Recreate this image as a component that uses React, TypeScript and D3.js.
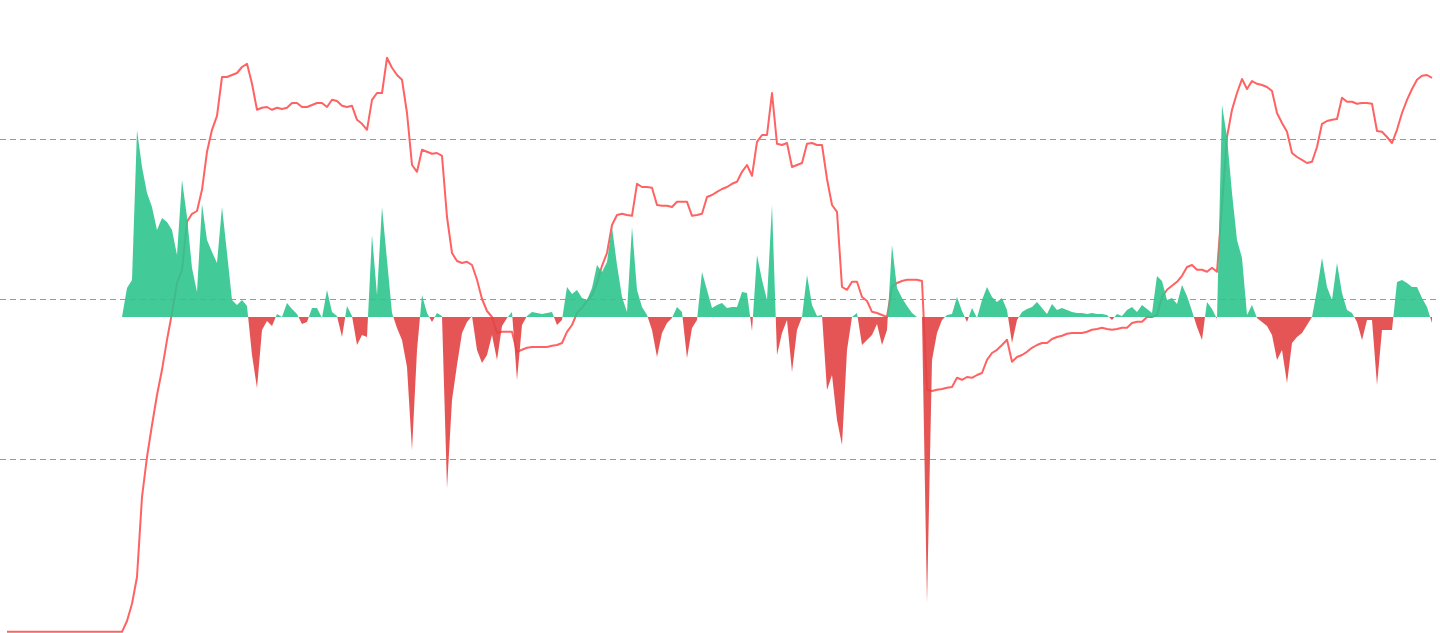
import React, { useEffect, useRef } from "react";
import * as d3 from "d3";

// price line, one sample every step of the time axis
const priceValues = [
  6.8, 6.8, 6.8, 6.8, 6.8, 6.8, 6.8, 6.8, 6.8, 6.8, 6.8, 6.8, 6.8, 6.8, 6.8, 6.8, 6.8, 6.8, 6.8, 6.8, 6.8, 6.8, 6.8, 6.8,
  9.5, 13.8, 20.5, 40.5, 50.5, 58.5, 66, 72.3, 79.8, 86.5, 94, 97.3, 109.3, 111.3, 112, 117.3, 126.8, 132.3, 135.8,
  145.5, 145.5, 146, 146.5, 148, 148.8, 143.8, 137.3, 137.8, 138, 137.3, 137.8, 137.5, 137.8, 139, 139, 138, 138,
  138.5, 139, 139, 138, 139.8, 139.5, 138.3, 138, 138.3, 134.8, 133.8, 132.3, 139.8, 141.5, 141.5, 150.3, 147.8,
  146, 144.8, 136.5, 123.5, 121.8, 127.3, 126.8, 126.3, 126.5, 125.8, 110.5, 101.5, 99.5, 99, 99.3, 98.5, 94.8,
  90, 87, 85.5, 81.5, 81.8, 81.8, 81.8, 76.8, 77.3, 77.8, 78, 78, 78, 78, 78.3, 78.5, 79, 81.8, 83.5, 86.5, 87.8,
  89.5, 91, 94, 98.3, 101.5, 108.5, 111, 111.3, 111, 110.8, 118.8, 118, 118, 117.8, 113.5, 113.3, 113.3, 113,
  114.3, 114.3, 114.3, 110.8, 111, 111.3, 115.5, 116, 116.8, 117.5, 118, 118.8, 119.3, 121.8, 123.5, 120.8,
  129.3, 131, 131, 141.5, 128.8, 128.5, 129, 123, 123.5, 124, 128.8, 129, 128.5, 128.5, 120, 113.5, 111.8, 93,
  92.3, 94.3, 94.3, 90.5, 89.5, 86.8, 86.5, 86, 85.5, 93, 94, 94.5, 94.8, 94.8, 94.8, 94.5, 67.3, 67, 67.3, 67.5,
  67.8, 68, 70.3, 69.8, 70.5, 70.3, 71, 71.5, 74.8, 76.5, 77.3, 78.5, 79.8, 74.3, 75.5, 76, 76.8, 77.8, 78.5, 79,
  79, 80, 80.5, 80.8, 81.3, 81.5, 81.5, 81.5, 81.8, 82.3, 82.5, 82.8, 82.5, 82.3, 82.5, 82.8, 82.8, 84, 84.3,
  84.3, 85.5, 85.5, 86, 90.5, 92.3, 93.3, 94.3, 95.8, 98, 98.5, 97.3, 97.3, 96.8, 97.8, 96.8, 113.5, 130.5,
  137.3, 141.5, 145, 142.5, 144.5, 143.8, 143.5, 143, 142, 136.5, 134, 131.8, 126.5, 125.5, 124.8, 124, 124.3,
  128, 133.8, 134.5, 134.8, 135, 140.3, 139.3, 139.3, 138.8, 139, 139, 138.8, 132, 131.8, 130.5, 129, 132.3,
  136.5, 139.8, 142.5, 144.8, 145.8, 146, 145.3,
];

// net flow (positive = inflow, negative = outflow); null before the flow data begins
const flowValues: (number | null)[] = [
  null, null, null, null, null, null, null, null, null, null, null, null, null, null, null, null, null, null, null,
  null, null, null, null,
  0, 14.5, 18.5, 93.5, 75, 62, 55, 43.5, 49.5, 47.5, 43.5, 31, 68.5, 50, 24.5, 12.5, 56.5, 38.5, 32.5, 27, 55,
  32, 8.5, 6, 8.5, 5.5, -19, -35.5, -6.5, -2, -4.5, 1.5, 0, 7, 4, 1.5, -3.5, -2.5, 4.5, 4.5, -0.5, 13.5, 2.5,
  0.5, -10, 5.5, 0.5, -14, -9, -10, 41, 11, 55, 28.5, 2, -5.5, -11.5, -25, -66.5, -16.5, 11, 2, -2.5, 2, 0.5,
  -85.5, -41.5, -24, -8, -2.5, 0.5, -16.5, -23, -19, -9, -21.5, -4.5, -0.5, 2.5, -31.5, -4, 0.5, 2.5, 2, 1.5, 2,
  2.5, -4, -1.5, 15, 11.5, 13.5, 9.5, 8.5, 14.5, 26, 22.5, 27.5, 45, 26, 10, 2.5, 45, 13.5, 5, 1, -6.5, -20, -8,
  -3, -0.5, 5, 2.5, -20.5, -5.5, -1.5, 22.5, 13.5, 4.5, 6, 7, 4.5, 5, 5, 12.5, 12, -7, 31, 18.5, 8.5, 56, -19,
  -8, -1.5, -27.5, -6.5, 0, 21, 6, 0.5, 1, -36.5, -29, -51.5, -64, -16.5, 0, 2, -14, -11.5, -9, -3.5, -14, -6.5,
  36, 14.5, 9.5, 5.5, 2, 0, 0, -143, -21.5, -8, -1.5, 1, 1.5, 10, 3, -2.5, 4.5, -0.5, 8.5, 15, 10, 7.5, 9.5, 3.5,
  -13, -1.5, 2.5, 4, 5, 7.5, 4.5, 1.5, 6.5, 3.5, 4.5, 3.5, 2.5, 2, 2, 1.5, 2, 1.5, 1.5, 1, -1.5, 1.5, 0.5, 3.5,
  5, 2.5, 6, 4, 2, 20.5, 18, 8.5, 9.5, 6.5, 16, 10.5, 3, -5, -11.5, 7.5, 4, -1, 106, 90, 62, 38.5, 29.5, 1, 6,
  -0.5, -2.5, -4.5, -9, -21.5, -16.5, -33, -13, -10, -8, -4, 0, 13.5, 29.5, 15, 8.5, 27, 12, 3.5, 2, -2.5,
  -11.5, -1.5, -1.5, -34, -6.5, -6.5, -6.5, 17.5, 18.5, 17, 15, 15, 9.5, 5, -3,
];

// price axis gridlines
const priceTicks = [50, 90, 130];

export default function App() {
  const svgRef = useRef<SVGSVGElement>(null);

  useEffect(() => {
    if (!svgRef.current) return;
    const svg = d3.select(svgRef.current);
    svg.selectAll("*").remove();

    const width = 1440;
    const height = 633;

    const x = d3.scaleLinear().domain([0, priceValues.length - 1]).range([7, 1432]);
    const yPrice = d3.scaleLinear().domain([0, 160]).range([659, 19]);
    const yFlow = d3.scaleLinear().domain([-150, 150]).range([617, 17]);
    const zero = yFlow(0);

    // clip regions above / below the flow zero line
    const defs = svg.append("defs");
    defs.append("clipPath").attr("id", "clip-up")
      .append("rect").attr("x", 0).attr("y", 0).attr("width", width).attr("height", zero);
    defs.append("clipPath").attr("id", "clip-down")
      .append("rect").attr("x", 0).attr("y", zero).attr("width", width).attr("height", height - zero);

    // gridlines
    svg.append("g")
      .selectAll("line")
      .data(priceTicks)
      .join("line")
      .attr("x1", 0)
      .attr("x2", width)
      .attr("y1", (d) => Math.round(yPrice(d)) + 0.5)
      .attr("y2", (d) => Math.round(yPrice(d)) + 0.5)
      .attr("stroke", "#999")
      .attr("stroke-width", 1)
      .attr("stroke-dasharray", "6,4");

    // price line
    const line = d3.line<number>()
      .x((_, i) => x(i))
      .y((d) => yPrice(d));

    svg.append("path")
      .datum(priceValues)
      .attr("fill", "none")
      .attr("stroke", "#ff6262")
      .attr("stroke-width", 2)
      .attr("stroke-linejoin", "round")
      .attr("d", line);

    // flow area, green above zero, red below
    const area = d3.area<number | null>()
      .defined((d) => d !== null)
      .x((_, i) => x(i))
      .y0(zero)
      .y1((d) => yFlow(d as number));

    svg.append("path")
      .datum(flowValues)
      .attr("clip-path", "url(#clip-up)")
      .attr("fill", "rgb(46,196,142)")
      .attr("fill-opacity", 0.9)
      .attr("d", area);

    svg.append("path")
      .datum(flowValues)
      .attr("clip-path", "url(#clip-down)")
      .attr("fill", "rgb(226,66,66)")
      .attr("fill-opacity", 0.9)
      .attr("d", area);
  }, []);

  return (
    <svg
      ref={svgRef}
      width="1440"
      height="633"
      style={{ position: "absolute", left: 0, top: 0, display: "block", background: "#fff" }}
    />
  );
}
